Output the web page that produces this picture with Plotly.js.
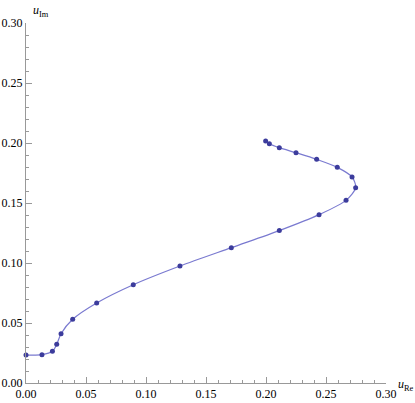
<!DOCTYPE html>
<html>
<head>
<meta charset="utf-8">
<script src="https://cdn.plot.ly/plotly-3.0.1.min.js"></script>
<style>
  html, body { margin: 0; padding: 0; background: #fff; }
  #chart { width: 415px; height: 403px; }
</style>
</head>
<body>
<div id="chart"></div>
<script>
// Trajectory points
const uRe = [0.000, 0.0133, 0.0220, 0.0256, 0.0292, 0.0389, 0.0589, 0.0894, 0.1283, 0.1711,
             0.2111, 0.2442, 0.2667, 0.2747, 0.2717, 0.2594, 0.2422, 0.2250, 0.2111, 0.2028, 0.1997];
const uIm = [0.0233, 0.0236, 0.0264, 0.0322, 0.0411, 0.0531, 0.0667, 0.0819, 0.0975, 0.1128,
             0.1270, 0.1403, 0.1522, 0.1628, 0.1717, 0.1797, 0.1864, 0.1919, 0.1961, 0.1994, 0.2017];

const tickVals = [0, 0.05, 0.10, 0.15, 0.20, 0.25, 0.30];
const tickText = ['0.00', '0.05', '0.10', '0.15', '0.20', '0.25', '0.30'];

const axisGray = '#999999';
const serif = '"Liberation Serif", serif';

const traces = [{
  type: 'scatter',
  mode: 'lines+markers',
  x: uRe,
  y: uIm,
  line: { color: '#7a7ad0', width: 1.2, shape: 'spline', smoothing: 0.8 },
  marker: { color: '#3c3c9c', size: 5 },
  cliponaxis: false,
  hoverinfo: 'none'
}];

function axis() {
  return {
    range: [0, 0.30],
    tickvals: tickVals,
    ticktext: tickText,
    ticks: 'inside',
    ticklen: 6,
    tickcolor: axisGray,
    tickwidth: 1,
    minor: { dtick: 0.01, ticks: 'inside', ticklen: 3, tickcolor: axisGray, showgrid: false },
    showline: true,
    linecolor: axisGray,
    linewidth: 1,
    showgrid: false,
    zeroline: false,
    tickfont: { family: serif, size: 12, color: '#000' },
    fixedrange: true
  };
}

const layout = {
  width: 415,
  height: 403,
  margin: { l: 26, r: 29, t: 23, b: 20 },
  paper_bgcolor: '#fff',
  plot_bgcolor: '#fff',
  showlegend: false,
  xaxis: axis(),
  yaxis: axis(),
  annotations: [
    {
      text: '<i>u</i><sub>Im</sub>', xref: 'paper', yref: 'paper', x: 0, y: 1,
      xanchor: 'left', yanchor: 'bottom', xshift: 5, yshift: 2, showarrow: false,
      font: { family: serif, size: 12, color: '#000' }
    },
    {
      text: '<i>u</i><sub>Re</sub>', xref: 'paper', yref: 'paper', x: 1, y: 0,
      xanchor: 'left', yanchor: 'middle', xshift: 10, yshift: -2, showarrow: false,
      font: { family: serif, size: 12, color: '#000' }
    }
  ]
};

Plotly.newPlot('chart', traces, layout, { displayModeBar: false, staticPlot: true });
</script>
</body>
</html>
